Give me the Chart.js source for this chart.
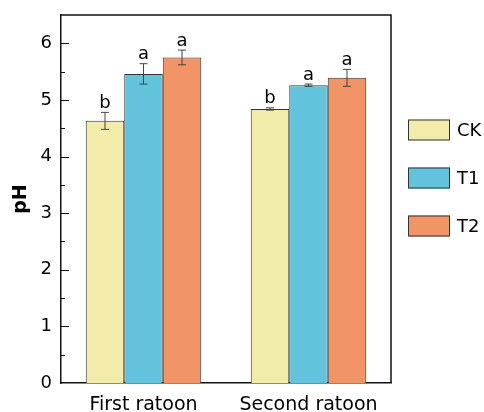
<!DOCTYPE html>
<html>
<head>
<meta charset="utf-8">
<script src="https://cdn.jsdelivr.net/npm/chart.js@4.4.0/dist/chart.umd.min.js"></script>
<style>
  html, body { margin: 0; padding: 0; background: #fff; }
  #wrap { width: 484px; height: 412px; }
</style>
</head>
<body>
<div id="wrap"><canvas id="phChart" width="484" height="412"></canvas></div>
<script>
// data
const categories = ['First ratoon', 'Second ratoon'];
const seriesNames = ['CK', 'T1', 'T2'];
const ckValues = [4.63, 4.84];
const t1Values = [5.46, 5.26];
const t2Values = [5.75, 5.39];
const ckErrors = [0.15, 0.02];
const t1Errors = [0.18, 0.02];
const t2Errors = [0.13, 0.15];
const ckLetters = ['b', 'b'];
const t1Letters = ['a', 'a'];
const t2Letters = ['a', 'a'];
const yTicks = [0, 1, 2, 3, 4, 5, 6];

const FONT = 'DejaVu Sans';
const colors = ['#F3EBA9', '#63C3DC', '#F19466'];
const errors = [ckErrors, t1Errors, t2Errors];
const letters = [ckLetters, t1Letters, t2Letters];

// frame, inner ticks, error bars, significance letters, legend
const extrasPlugin = {
  id: 'extras',
  afterDatasetsDraw(chart) {
    const ctx = chart.ctx;
    const y = chart.scales.y;
    ctx.save();
    chart.data.datasets.forEach((ds, i) => {
      const meta = chart.getDatasetMeta(i);
      meta.data.forEach((bar, j) => {
        const v = ds.data[j];
        const e = errors[i][j];
        const yTop = y.getPixelForValue(v + e);
        const yBot = y.getPixelForValue(v - e);
        ctx.strokeStyle = '#444';
        ctx.lineWidth = 1;
        ctx.beginPath();
        ctx.moveTo(bar.x, yTop); ctx.lineTo(bar.x, yBot);
        ctx.moveTo(bar.x - 4, yTop); ctx.lineTo(bar.x + 4, yTop);
        ctx.moveTo(bar.x - 4, yBot); ctx.lineTo(bar.x + 4, yBot);
        ctx.stroke();
        ctx.fillStyle = '#000';
        ctx.font = '18px "' + FONT + '"';
        ctx.textAlign = 'center';
        ctx.textBaseline = 'alphabetic';
        ctx.fillText(letters[i][j], bar.x, yTop - 4.5);
      });
    });
    ctx.restore();
  },
  afterDraw(chart) {
    const ctx = chart.ctx;
    const a = chart.chartArea;
    const y = chart.scales.y;
    ctx.save();
    ctx.strokeStyle = '#111';
    ctx.lineWidth = 1.5;
    ctx.beginPath();
    ctx.moveTo(a.left, a.top); ctx.lineTo(a.right, a.top); ctx.lineTo(a.right, a.bottom);
    ctx.stroke();
    // inward ticks on the y axis
    ctx.lineWidth = 1;
    for (let v = 0.5; v <= 6; v += 0.5) {
      const py = Math.round(y.getPixelForValue(v)) + 0.5;
      const len = Number.isInteger(v) ? 8 : 4;
      ctx.beginPath();
      ctx.moveTo(a.left, py); ctx.lineTo(a.left + len, py);
      ctx.stroke();
    }
    // legend
    ctx.font = '18px "' + FONT + '"';
    ctx.textAlign = 'left';
    ctx.textBaseline = 'middle';
    chart.data.datasets.forEach((ds, i) => {
      const cy = 130 + i * 48;
      ctx.fillStyle = ds.backgroundColor;
      ctx.fillRect(408, cy - 10.5, 42, 21);
      ctx.strokeStyle = '#333';
      ctx.strokeRect(408.5, cy - 10, 41, 20);
      ctx.fillStyle = '#000';
      ctx.fillText(ds.label, 457, cy + 1);
    });
    ctx.restore();
  }
};

new Chart(document.getElementById('phChart'), {
  type: 'bar',
  data: {
    labels: categories,
    datasets: [ckValues, t1Values, t2Values].map((vals, i) => ({
      label: seriesNames[i],
      data: vals,
      backgroundColor: colors[i],
      borderColor: '#333',
      borderWidth: 1,
      categoryPercentage: 0.7,
      barPercentage: 1.0
    }))
  },
  options: {
    responsive: false,
    animation: false,
    layout: { padding: { top: 15, right: 93, left: 0, bottom: 0 } },
    plugins: {
      legend: { display: false },
      tooltip: { enabled: false }
    },
    scales: {
      x: {
        grid: { display: false, drawTicks: false },
        border: { display: true, color: '#111', width: 1.5 },
        ticks: { color: '#000', font: { family: FONT, size: 19 }, padding: 11 },
        afterFit(scale) {
          scale.height = 29;
          scale.paddingLeft = 0; scale.paddingRight = 0;
        }
      },
      y: {
        min: 0,
        max: 6.5,
        grid: { display: false, drawTicks: false },
        border: { display: true, color: '#111', width: 1.5 },
        afterBuildTicks(scale) { scale.ticks = yTicks.map(v => ({ value: v })); },
        ticks: { color: '#000', font: { family: FONT, size: 18 }, padding: 9 },
        title: {
          display: true,
          text: 'pH',
          color: '#000',
          font: { family: FONT, size: 19, weight: 'bold' },
          padding: { top: 10, bottom: 0 }
        },
        afterFit(scale) {
          scale.width = 61;
          scale.paddingTop = 0; scale.paddingBottom = 0;
        }
      }
    }
  },
  plugins: [extrasPlugin]
});
</script>
</body>
</html>
